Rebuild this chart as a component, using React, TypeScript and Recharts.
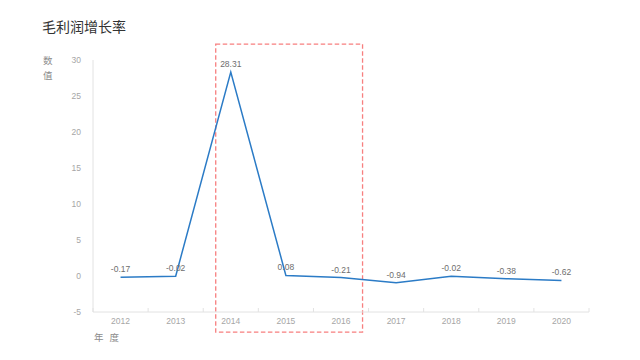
import React from "react";
import { LineChart, Line, XAxis, YAxis, LabelList, ReferenceArea } from "recharts";

const years = ["2012", "2013", "2014", "2015", "2016", "2017", "2018", "2019", "2020"];
const growth = [-0.17, -0.02, 28.31, 0.08, -0.21, -0.94, -0.02, -0.38, -0.62];
const yTicks = [-5, 0, 5, 10, 15, 20, 25, 30];
const highlightFrom = "2014";
const highlightTo = "2016";
const highlightTop = 32.2;
const highlightBottom = -7.8;

const data = years.map((y, i) => ({ year: y, value: growth[i] }));

const W = 640;
const H = 360;
const M = { top: 60, right: 51, bottom: 30, left: 0 };
const Y_AXIS_W = 93;
const PLOT_W = W - M.left - M.right - Y_AXIS_W;
const BAND = PLOT_W / years.length;
const FONT = "'Liberation Sans', 'Noto Sans CJK SC', sans-serif";

const XTick = (props: any) => {
  const { x, y, payload, index } = props;
  const last = index === years.length - 1;
  return (
    <g>
      <line x1={x - BAND / 2} x2={x - BAND / 2} y1={y} y2={y - 4} stroke="#e2e2e2" />
      {last && <line x1={x + BAND / 2} x2={x + BAND / 2} y1={y} y2={y - 4} stroke="#e2e2e2" />}
      <text x={x} y={y + 12} textAnchor="middle" fill="#a6a6a6" fontSize={8.5} fontFamily={FONT}>
        {payload.value}
      </text>
    </g>
  );
};

const HighlightBox = (props: any) => {
  const { x, y, width, height } = props;
  return (
    <rect
      x={x + 12.5}
      y={y}
      width={width - 18.5}
      height={height}
      fill="none"
      stroke="#f77f7f"
      strokeWidth={1.3}
      strokeDasharray="4.5 2.5"
    />
  );
};

export default function App() {
  return (
    <div style={{ position: "absolute", left: 0, top: 0, width: W, height: H, background: "#fff", fontFamily: FONT }}>
      <div style={{ position: "absolute", left: 42, top: 16, fontSize: 14, color: "#333", fontFamily: "'Noto Sans CJK SC', sans-serif" }}>
        毛利润增长率
      </div>
      <div style={{ position: "absolute", left: 43, top: 53, fontSize: 9.5, color: "#8c8c8c", lineHeight: "15px", width: 12, fontFamily: "'Noto Sans CJK SC', sans-serif" }}>
        数<br />值
      </div>
      <div style={{ position: "absolute", left: 94, top: 330, fontSize: 9.5, color: "#8c8c8c", letterSpacing: 6, fontFamily: "'Noto Sans CJK SC', sans-serif" }}>
        年度
      </div>
      <LineChart width={W} height={H} data={data} margin={M} style={{ position: "absolute", left: 0, top: 0 }}>
        <XAxis
          dataKey="year"
          scale="band"
          stroke="#e2e2e2"
          tickLine={false}
          tickSize={0}
          tickMargin={0}
          height={18}
          tick={<XTick />}
          interval={0}
        />
        <YAxis
          domain={[-5, 30]}
          ticks={yTicks}
          width={Y_AXIS_W}
          stroke="#e2e2e2"
          tickLine={false}
          tickMargin={6}
          tick={{ fill: "#a6a6a6", fontSize: 8.5, fontFamily: FONT }}
          allowDataOverflow
        />
        <Line
          type="linear"
          dataKey="value"
          stroke="#2b7bc6"
          strokeWidth={1.5}
          dot={false}
          isAnimationActive={false}
        >
          <LabelList dataKey="value" position="top" offset={5} fill="#6e6e6e" fontSize={8.5} fontFamily={FONT} />
        </Line>
        <ReferenceArea
          x1={highlightFrom}
          x2={highlightTo}
          y1={highlightBottom}
          y2={highlightTop}
          ifOverflow="visible"
          shape={<HighlightBox />}
        />
      </LineChart>
    </div>
  );
}
